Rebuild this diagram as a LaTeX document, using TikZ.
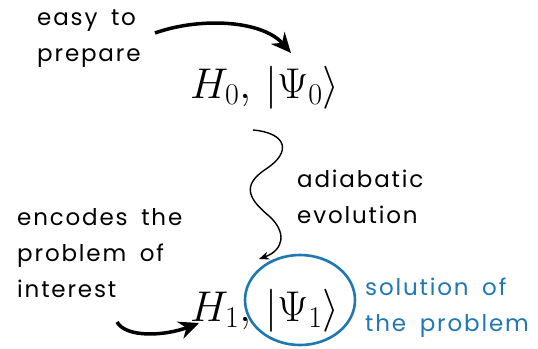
\documentclass[tikz,border=0pt]{standalone}
\usepackage{fix-cm}
\usepackage{fontspec}
\usepackage{tikz}
\usetikzlibrary{arrows.meta, positioning, shapes.geometric}
\newfontfamily\handfont[LetterSpace=8, WordSpace=1.7]{Poppins}
\definecolor{solblue}{RGB}{31,119,180}

\begin{document}
\begin{tikzpicture}[x=1pt, y=-1pt, every node/.style={inner sep=0pt},
    note/.style={align=left, anchor=west, font=\handfont\fontsize{23}{36}\selectfont},
    state/.style={anchor=base west, font=\fontsize{43}{50}\selectfont},
    ring/.style={ellipse, draw=solblue, line width=2.6pt, minimum width=110pt, minimum height=90pt},
    bigarrow/.style={-{Stealth[length=20pt, width=18pt]}, line width=3.5pt},
    thinarrow/.style={-{Stealth[length=10pt, width=8pt]}, line width=1.4pt}]
    \useasboundingbox (0,0) rectangle (538,348);
    \node[note] (easy) at (37,39) {easy to\\prepare};
    \node[state] (H0) at (190,98) {$H_0,\,|\Psi_0\rangle$};
    \node[note] (adiab) at (297,197) {adiabatic\\evolution};
    \node[note] (encodes) at (17,253) {encodes the\\problem of\\interest};
    \node[state] (H1) at (190,321) {$H_1,\,|\Psi_1\rangle$};
    \node[ring] (ring) at (300,300) {};
    \node[note, text=solblue] (solution) at (365,308) {solution of\\the problem};
    \coordinate (easytail) at (155,33);
    \coordinate (easyhead) at (291,53);
    \coordinate (evtail) at (253,130);
    \coordinate (evhead) at (259,259);
    \coordinate (enctail) at (117,322);
    \coordinate (enchead) at (199,323);
    \draw[bigarrow] (easytail) .. controls (200,17) and (262,20) .. (easyhead);
    \draw[thinarrow] (evtail) .. controls (287,133) and (292,152) .. (266,169)
        .. controls (240,186) and (250,200) .. (269,216)
        .. controls (287,232) and (284,250) .. (evhead);
    \draw[bigarrow] (enctail) .. controls (126,338) and (165,336) .. (enchead);
\end{tikzpicture}
\end{document}
